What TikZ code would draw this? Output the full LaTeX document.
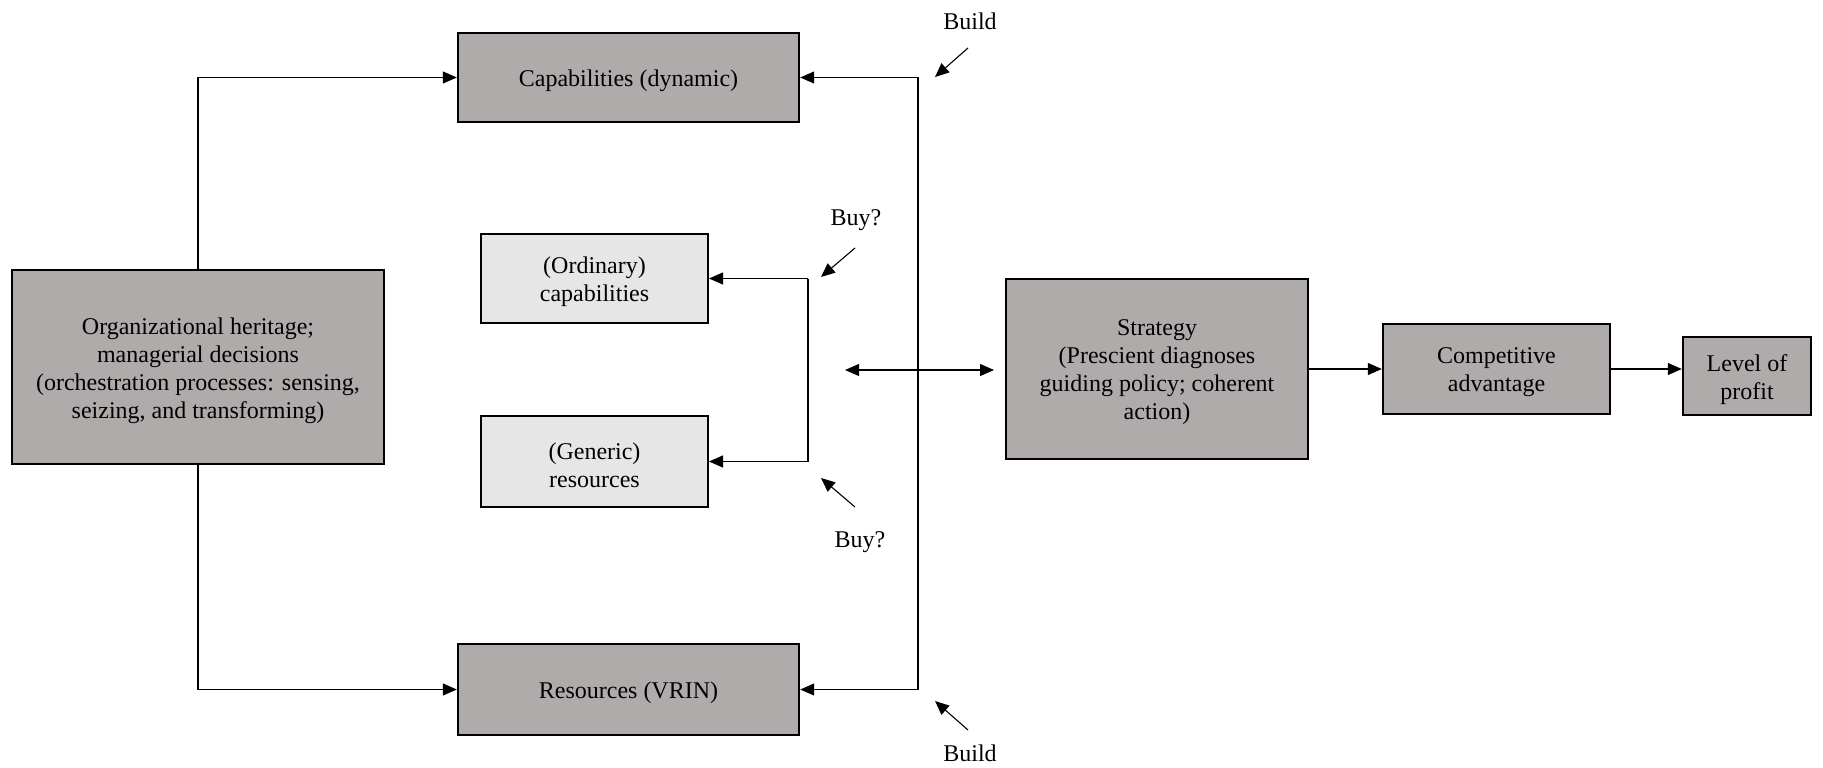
\documentclass[tikz,border=0pt]{standalone}
\usepackage{fontspec}
\setmainfont{LiberationSerif}[Extension=.ttf, UprightFont=*-Regular, BoldFont=*-Bold, ItalicFont=*-Italic, BoldItalicFont=*-BoldItalic]
\usetikzlibrary{arrows.meta}
\definecolor{darkbox}{RGB}{175,171,170}
\definecolor{lightbox}{RGB}{230,230,230}
\begin{document}
\begin{tikzpicture}[x=1pt,y=-1pt,
  font=\fontsize{24}{28}\selectfont,
  txt/.style={align=center, inner sep=0pt, yshift=-3.5pt},
  dbox/.style={draw, line width=2.4pt, fill=darkbox, inner sep=0pt},
  lbox/.style={draw, line width=2pt, fill=lightbox, inner sep=0pt},
  tip/.style={-{Triangle[length=14pt,width=12pt]}},
  conn/.style={line width=1.1pt, tip},
  plain/.style={line width=1.1pt},
  lbl/.style={inner sep=0pt}]
\useasboundingbox (0,0) rectangle (1823,768);

\node[dbox, minimum width=341, minimum height=89, label={[txt]center:{Capabilities (dynamic)}}] (caps) at (628.5,77.5) {};
\node[dbox, minimum width=372, minimum height=194, label={[txt]center:{Organizational heritage;\\managerial decisions\\(orchestration processes: sensing,\\seizing, and transforming)}}] (org) at (198,367) {};
\node[lbox, minimum width=227, minimum height=89, label={[txt]center:{(Ordinary)\\capabilities}}] (ord) at (594.5,278.5) {};
\node[lbox, minimum width=227, minimum height=91, label={[txt]center:{(Generic)\\resources}}] (gen) at (594.5,461.5) {};
\node[dbox, minimum width=341, minimum height=91, label={[txt]center:{Resources (VRIN)}}] (res) at (628.5,689.5) {};
\node[dbox, minimum width=302, minimum height=180, label={[txt]center:{Strategy\\(Prescient diagnoses\\guiding policy; coherent\\action)}}] (strat) at (1157,369) {};
\node[dbox, minimum width=227, minimum height=90, label={[txt]center:{Competitive\\advantage}}] (comp) at (1496.5,369) {};
\node[dbox, minimum width=128, minimum height=78, label={[txt]center:{Level of\\profit}}] (profit) at (1747,376) {};

% left connectors
\draw[conn] (org.north) |- (caps.west);
\draw[conn] (org.south) |- (res.west);

% build bracket
\coordinate (bt) at (918,77.5);
\coordinate (bb) at (918,689.5);
\draw[plain] (bt) -- (bb);
\draw[conn] (bt) -- (caps.east);
\draw[conn] (bb) -- (res.east);

% buy bracket
\coordinate (ot) at (808,278.5);
\coordinate (ob) at (808,461.5);
\draw[plain] (ot) -- (ob);
\draw[conn] (ot) -- (ord.east);
\draw[conn] (ob) -- (gen.east);

% double arrow
\coordinate (dl) at (845,370);
\coordinate (dr) at (994,370);
\draw[line width=1.1pt, {Triangle[length=14pt,width=12pt]}-{Triangle[length=14pt,width=12pt]}] (dl) -- (dr);

% right chain
\draw[conn] (strat.east) -- (comp.west);
\draw[conn] (comp.east) -- (profit.west |- comp.east);

% labels
\node[lbl] (build1) at (970,21) {Build};
\node[lbl] (buy1) at (856,220) {Buy?};
\node[lbl] (buy2) at (860,542) {Buy?};
\node[lbl] (build2) at (970,753) {Build};

\coordinate (a1s) at (968,48);  \coordinate (a1e) at (935,77);
\coordinate (a2s) at (855,248); \coordinate (a2e) at (821,277);
\coordinate (a3s) at (855,507); \coordinate (a3e) at (821,478);
\coordinate (a4s) at (968,730); \coordinate (a4e) at (935,701);
\draw[conn] (a1s) -- (a1e);
\draw[conn] (a2s) -- (a2e);
\draw[conn] (a3s) -- (a3e);
\draw[conn] (a4s) -- (a4e);
\end{tikzpicture}
\end{document}
